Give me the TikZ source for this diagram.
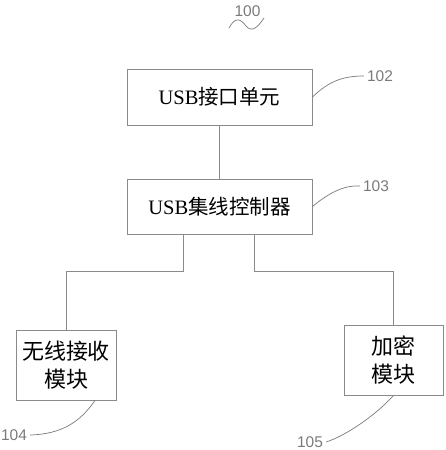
\documentclass[tikz,border=0pt]{standalone}
\usepackage{fontspec}
\setmainfont{Liberation Serif}
\newfontfamily\cjk{Noto Sans CJK SC}
\newfontfamily\numf{Liberation Sans}
\definecolor{linegray}{HTML}{8A8A8A}
\definecolor{numgray}{HTML}{7A7A7A}
\begin{document}
\begin{tikzpicture}[x=1pt,y=-1pt,
  box/.style={draw=linegray,line width=0.9pt,inner sep=0pt,align=center,text=black},
  wire/.style={draw=linegray,line width=0.9pt},
  lead/.style={draw=numgray,line width=0.7pt},
  num/.style={font=\numf\fontsize{15.5}{15.5}\selectfont,text=numgray,inner sep=0pt}]
\useasboundingbox (0,0) rectangle (445,450);
\node[box,minimum width=185pt,minimum height=56pt,font=\fontsize{20.5}{20.5}\selectfont] (n102) at (219.5,97) {USB{\cjk 接口单元}};
\node[box,minimum width=185pt,minimum height=55pt,font=\fontsize{20.5}{20.5}\selectfont] (n103) at (219.5,206.5) {USB{\cjk 集线控制器}};
\node[box,minimum width=100pt,minimum height=70pt,font=\cjk\fontsize{22}{28}\selectfont] (n104) at (66,365) {无线接收\\模块};
\node[box,minimum width=99pt,minimum height=70pt,font=\cjk\fontsize{22}{28}\selectfont] (n105) at (393.5,360) {加密\\模块};
\node[num] (l100) at (247.5,11) {100};
\node[num] (l102) at (380,76) {102};
\node[num] (l103) at (376,186) {103};
\node[num] (l104) at (14,435) {104};
\node[num] (l105) at (310,442) {105};
\coordinate (t0) at (229,28);
\coordinate (t1) at (264,18);
\draw[wire] (n102) -- (n103);
\draw[wire] ([xshift=-36pt]n103.south) -- ++(0,37) -| (n104.north);
\draw[wire] ([xshift=35pt]n103.south) -- ++(0,37) -| (n105.north);
\draw[lead] (t0) .. controls (235,17) and (240,18) .. (246,26) .. controls (252,33) and (258,27) .. (t1);
\draw[lead] (n102.east) .. controls (330,80) and (345,76) .. ([xshift=-3pt]l102.west);
\draw[lead] (n103.east) .. controls (330,192) and (345,185) .. ([xshift=-3pt]l103.west);
\draw[lead] ([xshift=29pt]n104.south) .. controls (80,422) and (62,434) .. ([xshift=3pt]l104.east);
\draw[lead] (n105.south) .. controls (375,416) and (345,436) .. ([xshift=3pt]l105.east);
\end{tikzpicture}
\end{document}
